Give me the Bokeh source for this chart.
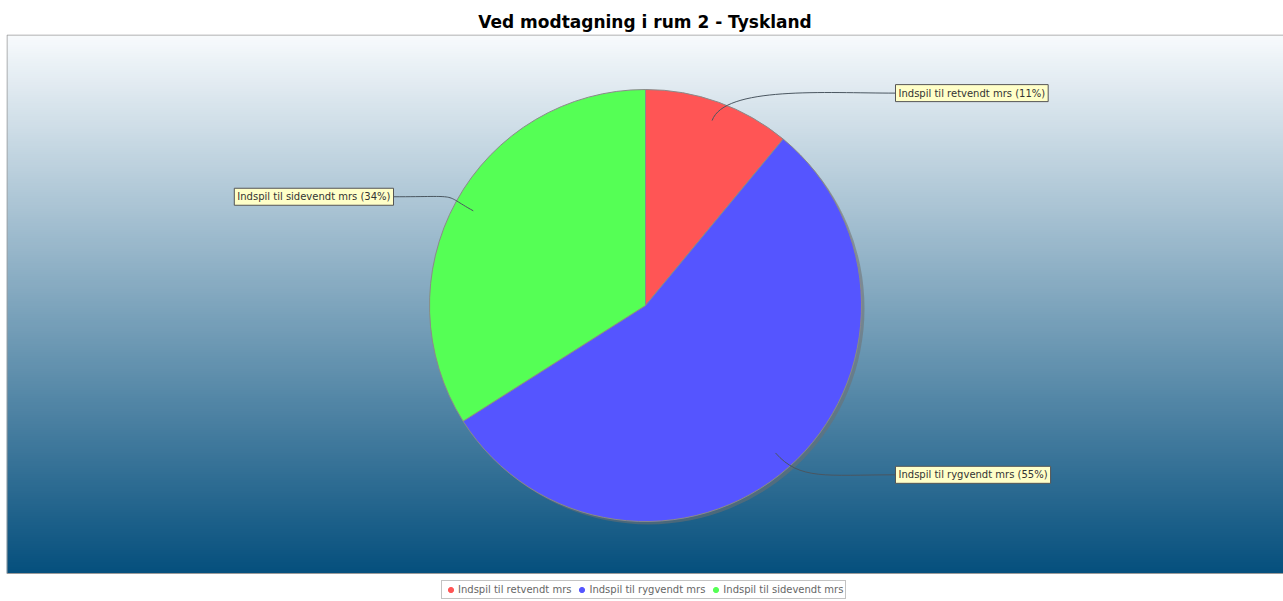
import math
import numpy as np
from bokeh.plotting import figure
from bokeh.models import Range1d, Legend, LegendItem, ColumnDataSource
from bokeh.core.properties import value
from bokeh.embed import file_html
from bokeh.resources import INLINE

title = "Ved modtagning i rum 2 - Tyskland"
categories = ["Indspil til retvendt mrs", "Indspil til rygvendt mrs", "Indspil til sidevendt mrs"]
shares = [11, 55, 34]
colors = ["#ff5555", "#5555ff", "#55ff55"]

FW, FH = 1277, 566      # whole frame (plot area + legend strip)
PB, PH = 27, 539        # plot-area bottom and height inside the frame
CX, CY, R = 639, PB + 268, 216

p = figure(width=1283, height=600, x_range=Range1d(0, FW), y_range=Range1d(0, FH),
           x_axis_type=None, y_axis_type=None, output_backend="svg", toolbar_location=None,
           min_border_left=6, min_border_right=0, min_border_top=34, min_border_bottom=0)
p.grid.visible = False
p.outline_line_color = None
p.background_fill_color = "white"
p.border_fill_color = "white"

p.title.text = title
p.title.align = "center"
p.title.text_font = "DejaVu Sans"
p.title.text_font_size = "17px"
p.title.text_font_style = "bold"
p.title.standoff = 5
p.title.text_color = "#000000"

# gradient background
top = np.array([248, 251, 253], dtype=float)
bot = np.array([6, 80, 126], dtype=float)
n = 256
t = np.linspace(0, 1, n)[:, None]  # row 0 is bottom
rgb = bot + (top - bot) * t
img = np.zeros((n, 1), dtype=np.uint32)
view = img.view(dtype=np.uint8).reshape((n, 1, 4))
view[:, 0, 0] = rgb[:, 0].astype(np.uint8)
view[:, 0, 1] = rgb[:, 1].astype(np.uint8)
view[:, 0, 2] = rgb[:, 2].astype(np.uint8)
view[:, 0, 3] = 255
p.image_rgba(image=[img], x=0, y=PB, dw=FW, dh=PH)
p.quad(left=0.5, right=FW + 2, bottom=PB, top=FH - 0.5, fill_color=None,
       line_color="#9a9a9a", line_width=1)

# legend proxy markers (hidden under the pie)
items = []
for c, col in zip(categories, colors):
    r = p.scatter(x=[CX], y=[CY], marker="circle", size=7, fill_color=col, line_color=col)
    items.append(LegendItem(label=c, renderers=[r]))

# angles
total = sum(shares)
fr = [s / total for s in shares]
cum = np.cumsum([0] + fr)
starts = [math.pi / 2 - 2 * math.pi * cum[i] for i in range(len(fr))]
ends = [math.pi / 2 - 2 * math.pi * cum[i + 1] for i in range(len(fr))]

# shadow
p.wedge(x=CX + 3, y=CY - 3, radius=R, start_angle=0, end_angle=2 * math.pi,
        fill_color="#707070", fill_alpha=0.55, line_color=None)

src = ColumnDataSource(dict(start=starts, end=ends, color=colors))
p.wedge(x=CX, y=CY, radius=R, start_angle="start", end_angle="end", direction="clock",
        fill_color="color", line_color="#8a8a8a", line_width=1, source=src)

# labels + connectors
lx, ly, txt, align = [], [], [], []
bx0, by0, bx1, by1, cx0, cy0, cx1, cy1 = [], [], [], [], [], [], [], []
for i, (c, s) in enumerate(zip(categories, shares)):
    mid = 2 * math.pi * (cum[i] + cum[i + 1]) / 2  # clockwise from top
    sx, cy = math.sin(mid), math.cos(mid)
    ax, ay = CX + 0.91 * R * sx, CY + 0.91 * R * cy
    yy = CY + 1.045 * R * cy
    if sx >= 0:
        xx = CX + 250
        align.append("left")
        c1x = xx - 70
    else:
        xx = CX - 252
        align.append("right")
        c1x = xx + 70
    lx.append(xx)
    ly.append(yy)
    txt.append(f"{c} ({s}%)")
    bx0.append(ax); by0.append(ay)
    bx1.append(xx); by1.append(yy)
    cx0.append(CX + 1.08 * R * sx); cy0.append(CY + 1.08 * R * cy)
    cx1.append(c1x); cy1.append(yy)

p.bezier(x0=bx0, y0=by0, x1=bx1, y1=by1, cx0=cx0, cy0=cy0, cx1=cx1, cy1=cy1,
         line_color="#4a5660", line_width=1)

lsrc = ColumnDataSource(dict(x=lx, y=ly, text=txt, align=align))
p.text(x="x", y="y", text="text", text_align="align", text_baseline="middle", source=lsrc,
       text_font=value("DejaVu Sans"), text_font_size="10px", text_color="#333333",
       background_fill_color="#ffffc8", border_line_color="#555555", border_line_width=1,
       padding=3)

# legend in the strip under the plot area
legend = Legend(items=items, orientation="horizontal", location=(435, 1),
                label_text_font="DejaVu Sans", label_text_font_size="10px",
                label_text_color="#666666", glyph_width=13, glyph_height=13,
                label_standoff=1, spacing=4, padding=2, margin=0,
                border_line_color="#888888", background_fill_color="white",
                label_height=12)
p.add_layout(legend)

open("out.html", "w").write(file_html(p, INLINE))
